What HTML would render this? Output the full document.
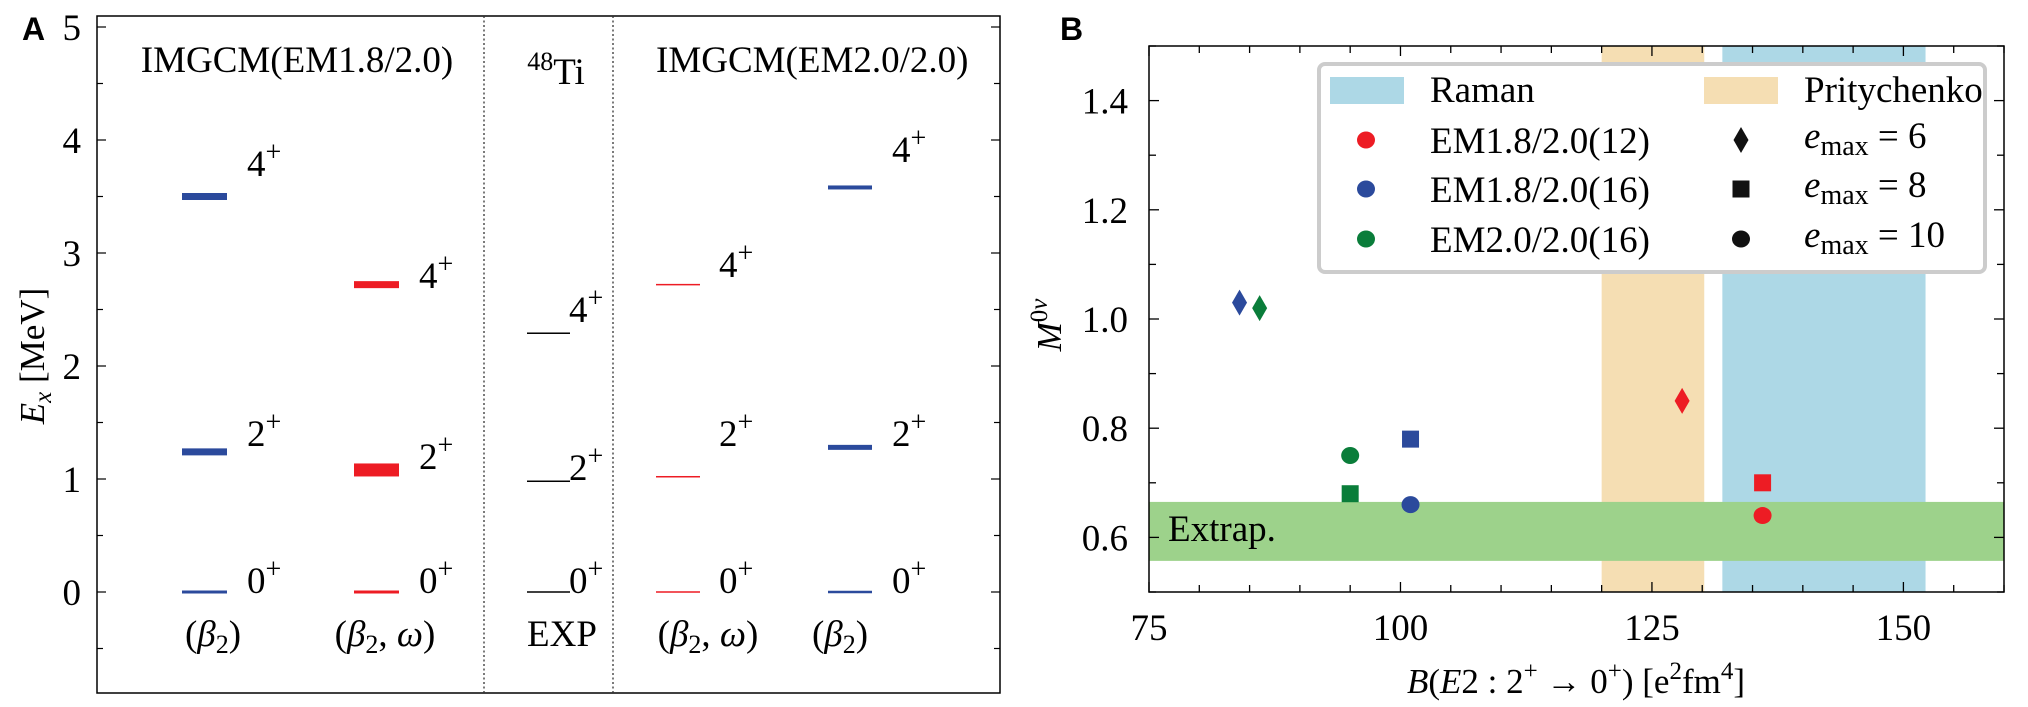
<!DOCTYPE html>
<html><head><meta charset="utf-8"><style>
body{margin:0;background:#fff}
svg{display:block;font-family:"Liberation Serif",serif}
</style></head><body>
<svg id="fig" width="2028" height="707" viewBox="0 0 2028 707" xmlns="http://www.w3.org/2000/svg"></svg>
<script>
// ---- Panel A data ----
const colNames=["(β2)","(β2,ω)","EXP","(β2,ω)","(β2)"];
const levelE0=[0,0,0,0,0];
const levelE2=[1.24,1.08,0.98,1.02,1.28];
const levelE4=[3.50,2.72,2.29,2.72,3.58];
const yTicksA=[0,1,2,3,4,5];
// ---- Panel B data ----
const seriesNames=["EM1.8/2.0(12)","EM1.8/2.0(16)","EM2.0/2.0(16)"];
const ptX=[84,86,95,95,101,101,128,136,136];
const ptY=[1.03,1.02,0.75,0.68,0.78,0.66,0.85,0.70,0.64];
const ptSeries=[1,2,2,2,1,1,0,0,0];
const ptShape=["d","d","c","s","s","c","d","s","c"];
const xTicksB=[75,100,125,150];
const yTicksB=[0.6,0.8,1.0,1.2,1.4];
const ramanBand=[132,152.2];
const prityBand=[120,130.2];
const extrapBand=[0.557,0.665];

const NS="http://www.w3.org/2000/svg";
const svg=document.getElementById('fig');
function el(tag,attrs,parent,text){const e=document.createElementNS(NS,tag);for(const k in attrs)e.setAttribute(k,attrs[k]);if(text!==undefined)e.textContent=text;(parent||svg).appendChild(e);return e;}
const FS=37, SUB=26;

// ===== Panel A =====
const A={l:97,r:1000,t:16,b:693};
const yA=v=>592-v*113;
const gA=el('g',{});


let t=el('text',{x:22,y:40,'font-family':'Liberation Sans,sans-serif','font-weight':'bold','font-size':32},gA,'A');

let fr=el('rect',{x:A.l,y:A.t,width:A.r-A.l,height:A.b-A.t,fill:'none',stroke:'#000','stroke-width':1.5},gA);

for(let v=-0.5;v<=5.01;v+=0.5){const y=yA(v);const len=Math.abs(v-Math.round(v))<0.01?9:6;
 el('line',{x1:A.l,x2:A.l+len,y1:y,y2:y,stroke:'#000','stroke-width':1.2},gA);
 el('line',{x1:A.r,x2:A.r-len,y1:y,y2:y,stroke:'#000','stroke-width':1.2},gA);}
yTicksA.forEach(v=>{const tx=el('text',{x:81,y:yA(v)+13,'text-anchor':'end','font-size':FS},gA,String(v));
 });
t=el('text',{transform:'translate(44,356) rotate(-90)','text-anchor':'middle','font-size':35},gA);

el('tspan',{'font-style':'italic'},t,'E');el('tspan',{'font-style':'italic','font-size':25,dy:7},t,'x');el('tspan',{dy:-7},t,' [MeV]');
[484,613].forEach(x=>{const d=el('line',{x1:x,x2:x,y1:A.t,y2:A.b,stroke:'#333','stroke-width':1.3,'stroke-dasharray':'2,2.5'},gA);
 });
t=el('text',{x:297,y:72,'text-anchor':'middle','font-size':FS},gA,'IMGCM(EM1.8/2.0)');

t=el('text',{x:556,y:84,'text-anchor':'middle','font-size':FS},gA);

el('tspan',{'font-size':SUB,dy:-14},t,'48');el('tspan',{dy:14},t,'Ti');
t=el('text',{x:656,y:72,'font-size':FS},gA,'IMGCM(EM2.0/2.0)');


const colX=[[182,227],[354,399],[527,570],[656,700],[828,872]];
const colColor=['#2b4a9c','#ed1c24','#000','#ed1c24','#2b4a9c'];
const thick0=[3,3,1.5,1.5,2.5], thick2=[7,13,1.5,1.5,5], thick4=[7,7,1.5,1.5,4];
const labY0=[593,593,593,593,593], labY2=[446,469,480,446,446], labY4=[176,288,322,277,162];
const labX=[247,419,569,719,892];
const colCenter=[213,385,562,708,840];
colNames.forEach((n,i)=>{
 [[levelE0,thick0,labY0,'0'],[levelE2,thick2,labY2,'2'],[levelE4,thick4,labY4,'4']].forEach(([arr,th,ly,J])=>{
  const r=el('rect',{x:colX[i][0],y:yA(arr[i])-th[i]/2,width:colX[i][1]-colX[i][0],height:th[i],fill:colColor[i]},gA);
  
  const lt=el('text',{x:labX[i],y:ly[i],'font-size':FS},gA);
  
  el('tspan',{},lt,J);el('tspan',{'font-size':28,dy:-15},lt,'+');
 });
 const bt=el('text',{x:colCenter[i],y:646,'text-anchor':'middle','font-size':FS},gA);
 
 if(n==='EXP'){bt.textContent='EXP';}
 else{el('tspan',{},bt,'(');el('tspan',{'font-style':'italic'},bt,'β');el('tspan',{'font-size':SUB,dy:7},bt,'2');
  if(n.indexOf('ω')>=0){el('tspan',{dy:-7},bt,', ');el('tspan',{'font-style':'italic'},bt,'ω');el('tspan',{},bt,')');}
  else el('tspan',{dy:-7},bt,')');}
});

// ===== Panel B =====
const B={l:1149,r:2004,t:46,b:592};
const xB=v=>B.l+(v-75)*(B.r-B.l)/85;
const yB=v=>B.b-(v-0.5)*(B.b-B.t)/1.0;
const gB=el('g',{});


t=el('text',{x:1060,y:40,'font-family':'Liberation Sans,sans-serif','font-weight':'bold','font-size':32},gB,'B');

let r=el('rect',{x:xB(prityBand[0]),y:B.t,width:xB(prityBand[1])-xB(prityBand[0]),height:B.b-B.t,fill:'#f5deb3'},gB);

r=el('rect',{x:xB(ramanBand[0]),y:B.t,width:xB(ramanBand[1])-xB(ramanBand[0]),height:B.b-B.t,fill:'#add8e6'},gB);

r=el('rect',{x:B.l,y:yB(extrapBand[1]),width:B.r-B.l,height:yB(extrapBand[0])-yB(extrapBand[1]),fill:'#9dd28b'},gB);

t=el('text',{x:1168,y:541,'font-size':FS},gB,'Extrap.');

for(let v=75;v<=160;v+=5){const x=xB(v);const len=(v%25===0)?10:7;
 el('line',{x1:x,x2:x,y1:B.b,y2:B.b-len,stroke:'#000','stroke-width':1.3},gB);
 el('line',{x1:x,x2:x,y1:B.t,y2:B.t+len,stroke:'#000','stroke-width':1.3},gB);}
for(let v=0.5;v<=1.501;v+=0.1){const y=yB(v);const len=(Math.round(v*10)%2===0)?10:7;
 el('line',{x1:B.l,x2:B.l+len,y1:y,y2:y,stroke:'#000','stroke-width':1.3},gB);
 el('line',{x1:B.r,x2:B.r-len,y1:y,y2:y,stroke:'#000','stroke-width':1.3},gB);}
fr=el('rect',{x:B.l,y:B.t,width:B.r-B.l,height:B.b-B.t,fill:'none',stroke:'#000','stroke-width':1.5},gB);

xTicksB.forEach(v=>{const tx=el('text',{x:xB(v),y:640,'text-anchor':'middle','font-size':FS},gB,String(v));
 });
yTicksB.forEach(v=>{const tx=el('text',{x:1128,y:yB(v)+13,'text-anchor':'end','font-size':FS},gB,v.toFixed(1));
 });
t=el('text',{transform:'translate(1061,325) rotate(-90)','text-anchor':'middle','font-size':35},gB);

el('tspan',{'font-style':'italic'},t,'M');el('tspan',{'font-size':25,dy:-14},t,'0');el('tspan',{'font-size':25,'font-style':'italic'},t,'ν');
t=el('text',{x:1576,y:693,'text-anchor':'middle','font-size':35},gB);

el('tspan',{'font-style':'italic'},t,'B');el('tspan',{},t,'(');el('tspan',{'font-style':'italic'},t,'E');el('tspan',{},t,'2 : 2');
el('tspan',{'font-size':25,dy:-14},t,'+');el('tspan',{dy:14},t,' → 0');el('tspan',{'font-size':25,dy:-14},t,'+');
el('tspan',{dy:14},t,') [e');el('tspan',{'font-size':25,dy:-14},t,'2');el('tspan',{dy:14},t,'fm');el('tspan',{'font-size':25,dy:-14},t,'4');el('tspan',{dy:14},t,']');

const sColor=['#ed1c24','#2b4a9c','#0a7d3a'];
function marker(shape,cx,cy,color,parent){
 if(shape==='d')return el('path',{d:`M${cx},${cy-13}L${cx+7.5},${cy}L${cx},${cy+13}L${cx-7.5},${cy}Z`,fill:color},parent);
 if(shape==='s')return el('rect',{x:cx-8.5,y:cy-8.5,width:17,height:17,fill:color},parent);
 return el('ellipse',{cx:cx,cy:cy,rx:9,ry:8.5,fill:color},parent);
}
ptX.forEach((xv,i)=>{const m=marker(ptShape[i],xB(xv),yB(ptY[i]),sColor[ptSeries[i]],gB);
 
 });

// legend
const gL=el('g',{},gB);


el('rect',{x:1319,y:64,width:666,height:208,rx:6,fill:'#fff',stroke:'#cccccc','stroke-width':4},gL);
const rowY=[90,140,189,239];
let e=el('rect',{x:1330,y:77,width:74,height:27,fill:'#add8e6'},gL);

e=el('text',{x:1430,y:rowY[0]+12,'font-size':FS},gL,'Raman');

e=el('rect',{x:1704,y:77,width:74,height:27,fill:'#f5deb3'},gL);

e=el('text',{x:1804,y:rowY[0]+12,'font-size':FS},gL,'Pritychenko');

seriesNames.forEach((n,i)=>{const m=marker('c',1366,rowY[i+1],sColor[i],gL);
 
 const tx=el('text',{x:1430,y:rowY[i+1]+13,'font-size':FS},gL,n);
 });
const emax=['6','8','10'];const shp=['d','s','c'];
emax.forEach((v,i)=>{const m=marker(shp[i],1741,rowY[i+1],'#111',gL);
 
 const tx=el('text',{x:1804,y:rowY[i+1]+8,'font-size':FS},gL);
 
 el('tspan',{'font-style':'italic'},tx,'e');el('tspan',{'font-size':28,dy:7},tx,'max');el('tspan',{dy:-7},tx,' = '+v);});
</script>
</body></html>
